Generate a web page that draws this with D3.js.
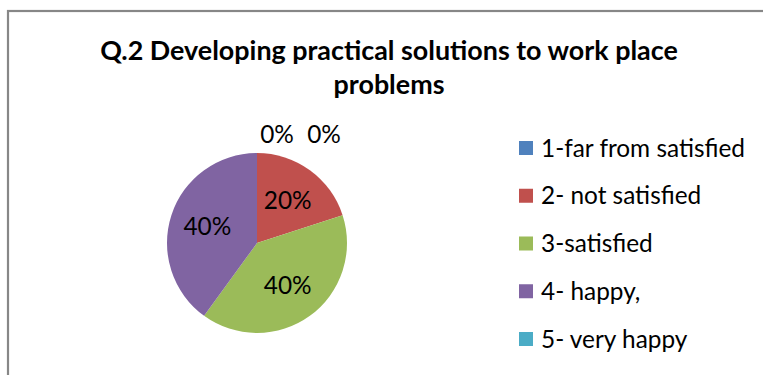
<!DOCTYPE html>
<html>
<head>
<meta charset="utf-8">
<script src="https://cdn.jsdelivr.net/npm/d3@7"></script>
<style>
  html, body { margin: 0; padding: 0; background: #ffffff; }
  svg { display: block; }
</style>
</head>
<body>
<svg id="chart" width="763" height="375"></svg>
<script>
// ---- data ----
const titleLines = ["Q.2 Developing practical solutions to work place", "problems"];
const categories = ["1-far from satisfied", "2- not satisfied", "3-satisfied", "4- happy,", "5- very happy"];
const values = [0, 20, 40, 40, 0];
const colors = ["#4F81BD", "#C0504D", "#9BBB59", "#8064A2", "#4BACC6"];

// ---- setup ----
const W = 763, H = 375;
const svg = d3.select("#chart");
const FONT = "Lato, 'Open Sans', 'Liberation Sans', sans-serif";

svg.append("rect").attr("width", W).attr("height", H).attr("fill", "#fff");
// chart area border (right/bottom edges fall outside the frame)
svg.append("rect")
  .attr("x", 8).attr("y", 11).attr("width", 900).attr("height", 600)
  .attr("fill", "none").attr("stroke", "#878787").attr("stroke-width", 2.2);

// helper: font size so that `text` has the given width
function fitSize(text, weight, target) {
  const t = svg.append("text").attr("font-family", FONT).attr("font-weight", weight)
    .attr("font-size", 100).text(text);
  const w = t.node().getComputedTextLength();
  t.remove();
  return 100 * target / w;
}

// ---- title ----
const titleSize = fitSize(titleLines[0], "bold", 578);
const titleBase = [60, 94];
svg.append("g").selectAll("text").data(titleLines).join("text")
  .attr("x", 389).attr("y", (d, i) => titleBase[i])
  .attr("text-anchor", "middle")
  .attr("font-family", FONT).attr("font-weight", "bold")
  .attr("font-size", titleSize).attr("fill", "#000")
  .text(d => d);

// ---- pie ----
const cx = 257, cy = 243, R = 90;
const pie = d3.pie().sort(null).value(d => d.value);
const data = categories.map((c, i) => ({ cat: c, value: values[i], color: colors[i] }));
const arcs = pie(data);
const arc = d3.arc().innerRadius(0).outerRadius(R);
const labelArc = d3.arc().innerRadius(R * 0.58).outerRadius(R * 0.58);
const outerArc = d3.arc().innerRadius(R + 19).outerRadius(R + 19);

const g = svg.append("g").attr("transform", `translate(${cx},${cy})`);
g.selectAll("path").data(arcs).join("path")
  .attr("d", arc).attr("fill", d => d.data.color);

const total = d3.sum(values);
const fmt = d3.format(".0%");
const labelSize = fitSize("1-far from satisfied", "normal", 204);
// zero-value labels sit above the pie, nudged apart to avoid overlap
const zeroNudge = [20, 0, 0, 0, 67];
g.selectAll("text.lbl").data(arcs).join("text")
  .attr("class", "lbl")
  .attr("transform", (d, i) => {
    if (d.data.value === 0) {
      const p = outerArc.centroid(d);
      return `translate(${p[0] + zeroNudge[i]},${p[1]})`;
    }
    const p = labelArc.centroid(d);
    return `translate(${p[0]},${p[1]})`;
  })
  .attr("dy", "0.35em")
  .attr("text-anchor", "middle")
  .attr("font-family", FONT).attr("font-size", labelSize).attr("fill", "#000")
  .text(d => fmt(d.data.value / total));

// ---- legend ----
const ly = d3.scalePoint().domain(categories).range([148, 339]);
const leg = svg.append("g").selectAll("g").data(data).join("g")
  .attr("transform", d => `translate(519,${ly(d.cat)})`);
leg.append("rect").attr("x", 0).attr("y", -7).attr("width", 14).attr("height", 14)
  .attr("fill", d => d.color);
leg.append("text").attr("x", 22).attr("y", 0).attr("dy", "0.35em")
  .attr("font-family", FONT).attr("font-size", labelSize).attr("fill", "#000")
  .text(d => d.cat);
</script>
</body>
</html>
